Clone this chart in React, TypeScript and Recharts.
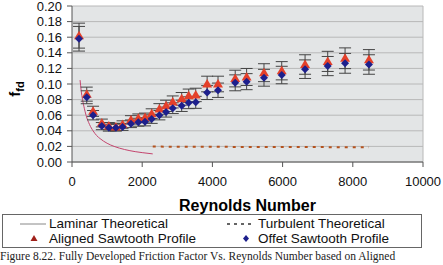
import React from "react";
import {
  ComposedChart,
  Line,
  Scatter,
  ErrorBar,
  XAxis,
  YAxis,
  CartesianGrid,
  ReferenceLine,
} from "recharts";

// measured points (Reynolds number)
const reynolds = [
  200, 420, 600, 850, 1050, 1250, 1440, 1680, 1890, 2080, 2270, 2490, 2680,
  2870, 3125, 3325, 3525, 3850, 4160, 4650, 4975, 5470, 5975, 6640, 7285,
  7780, 8460,
];
const aligned = [
  0.162, 0.087, 0.065, 0.05, 0.046, 0.045, 0.048, 0.054, 0.056, 0.057, 0.062,
  0.068, 0.072, 0.077, 0.081, 0.085, 0.086, 0.1, 0.1, 0.107, 0.109, 0.1145,
  0.117, 0.125, 0.129, 0.133, 0.131,
];
const alignedErr = [
  0.016, 0.009, 0.0065, 0.005, 0.0046, 0.0045, 0.0048, 0.0054, 0.0056, 0.0057,
  0.0062, 0.0068, 0.0072, 0.0077, 0.0081, 0.0085, 0.0086, 0.01, 0.01, 0.0107,
  0.0109, 0.0115, 0.0117, 0.0125, 0.0129, 0.0133, 0.0131,
];
const offset = [
  0.158, 0.083, 0.06, 0.046, 0.044, 0.044, 0.045, 0.049, 0.051, 0.0515, 0.055,
  0.06, 0.064, 0.069, 0.072, 0.076, 0.0765, 0.089, 0.092, 0.1015, 0.103, 0.108,
  0.1115, 0.119, 0.123, 0.1265, 0.125,
];
const offsetErr = [
  0.0158, 0.0083, 0.006, 0.0046, 0.0044, 0.0044, 0.0045, 0.0049, 0.0051,
  0.0052, 0.0055, 0.006, 0.0064, 0.0069, 0.0072, 0.0076, 0.0077, 0.0089,
  0.0092, 0.0102, 0.0103, 0.0108, 0.0112, 0.0119, 0.0123, 0.0127, 0.0125,
];

// theoretical curves
const laminarRe = [
  230, 260, 300, 350, 400, 500, 600, 700, 800, 1000, 1200, 1500, 1800, 2000,
  2300,
];
const laminarF = [
  0.105, 0.092, 0.08, 0.069, 0.06, 0.048, 0.04, 0.034, 0.03, 0.024, 0.02,
  0.016, 0.0133, 0.012, 0.0104,
];
const turbulentRe = [2300, 3000, 4000, 5000, 6000, 7000, 8000, 8460];
const turbulentF = [0.0198, 0.0196, 0.0195, 0.0193, 0.0192, 0.0191, 0.019, 0.019];

const xTicks = [0, 2000, 4000, 6000, 8000, 10000];
const yTicks = [0, 0.02, 0.04, 0.06, 0.08, 0.1, 0.12, 0.14, 0.16, 0.18, 0.2];

const alignedData = reynolds.map((re, i) => ({ re, f: aligned[i], err: alignedErr[i] }));
const offsetData = reynolds.map((re, i) => ({ re, f: offset[i], err: offsetErr[i] }));
const laminarData = laminarRe.map((re, i) => ({ re, f: laminarF[i] }));
const turbulentData = turbulentRe.map((re, i) => ({ re, f: turbulentF[i] }));

const RED = "#e4402a";
const BLUE = "#1d1f8c";
const FONT = "'Liberation Sans', Arial, sans-serif";

const Triangle = (p: any) => (
  <polygon
    points={`${p.cx},${p.cy - 5} ${p.cx - 5},${p.cy + 3.5} ${p.cx + 5},${p.cy + 3.5}`}
    fill={RED}
  />
);

const Diamond = (p: any) => (
  <polygon
    points={`${p.cx},${p.cy - 4} ${p.cx + 4},${p.cy} ${p.cx},${p.cy + 4} ${p.cx - 4},${p.cy}`}
    fill={BLUE}
  />
);

export default function App() {
  return (
    <div
      style={{
        position: "absolute",
        left: 0,
        top: 0,
        width: 443,
        height: 265,
        overflow: "hidden",
        background: "#fff",
        fontFamily: FONT,
      }}
    >
      <ComposedChart
        width={443}
        height={190}
        margin={{ top: 6, right: 20, left: 0, bottom: 0 }}
      >
        <CartesianGrid
          horizontal
          vertical={false}
          stroke="#b8b8b8"
          fill="#e3e5e6"
          fillOpacity={1}
        />
        <XAxis
          type="number"
          dataKey="re"
          domain={[0, 10000]}
          ticks={xTicks}
          interval={0}
          stroke="#555"
          tickSize={5}
          tickMargin={10}
          height={28}
          tick={{ fill: "#111", fontSize: 13, fontFamily: FONT }}
        />
        <YAxis
          type="number"
          dataKey="f"
          domain={[0, 0.2]}
          ticks={yTicks}
          interval={0}
          width={72}
          stroke="#555"
          tickSize={5}
          tickMargin={5}
          tickFormatter={(v: number) => v.toFixed(2)}
          tick={{ fill: "#111", fontSize: 13, fontFamily: FONT }}
        />
        <ReferenceLine x={10000} stroke="#b8b8b8" />
        <Line
          data={laminarData}
          dataKey="f"
          type="monotone"
          stroke="#c4456e"
          strokeWidth={1}
          dot={false}
          isAnimationActive={false}
        />
        <Line
          data={turbulentData}
          dataKey="f"
          type="linear"
          stroke="#b4521e"
          strokeWidth={2}
          strokeDasharray="3 5"
          dot={false}
          isAnimationActive={false}
        />
        <Scatter
          data={alignedData}
          dataKey="f"
          shape={Triangle}
          isAnimationActive={false}
        >
          <ErrorBar dataKey="err" direction="y" width={6} stroke="#444" strokeWidth={1} />
        </Scatter>
        <Scatter
          data={offsetData}
          dataKey="f"
          shape={Diamond}
          isAnimationActive={false}
        >
          <ErrorBar dataKey="err" direction="y" width={6} stroke="#444" strokeWidth={1} />
        </Scatter>
      </ComposedChart>

      {/* y axis title: f with subscript fd */}
      <div
        style={{
          position: "absolute",
          left: 4,
          top: 78,
          width: 22,
          height: 22,
          transform: "rotate(-90deg)",
          fontWeight: "bold",
          fontSize: 15,
          lineHeight: "22px",
          textAlign: "center",
        }}
      >
        f<sub style={{ fontSize: 11 }}>fd</sub>
      </div>

      <div
        style={{
          position: "absolute",
          left: 72,
          width: 351,
          top: 197,
          textAlign: "center",
          fontWeight: "bold",
          fontSize: 16,
        }}
      >
        Reynolds Number
      </div>

      {/* legend */}
      <div
        style={{
          position: "absolute",
          left: 2,
          top: 214,
          width: 418,
          height: 32,
          border: "1px solid #666",
          fontSize: 13.5,
          lineHeight: "15px",
          color: "#111",
        }}
      >
        <svg width={418} height={32} style={{ position: "absolute", left: 0, top: 0 }}>
          <line x1={17} x2={43} y1={9} y2={9} stroke="#888" strokeWidth={1} />
          <line x1={224} x2={252} y1={9} y2={9} stroke="#333" strokeWidth={1.5} strokeDasharray="3 4" />
          <polygon points="31,20 27.5,26 34.5,26" fill="#a0201a" />
          <polygon points="243,20 246,23.5 243,27 240,23.5" fill={BLUE} />
        </svg>
        <div style={{ position: "absolute", left: 46, top: 1 }}>Laminar Theoretical</div>
        <div style={{ position: "absolute", left: 255, top: 1 }}>Turbulent Theoretical</div>
        <div style={{ position: "absolute", left: 46, top: 16 }}>Aligned Sawtooth Profile</div>
        <div style={{ position: "absolute", left: 255, top: 16 }}>Offet Sawtooth Profile</div>
      </div>

      <div
        style={{
          position: "absolute",
          left: 0,
          top: 250,
          whiteSpace: "nowrap",
          fontFamily: "'Liberation Serif', 'Times New Roman', serif",
          fontSize: 11.5,
          lineHeight: "13px",
          color: "#222",
        }}
      >
        Figure 8.22. Fully Developed Friction Factor Vs. Reynolds Number based on Aligned
      </div>
    </div>
  );
}
